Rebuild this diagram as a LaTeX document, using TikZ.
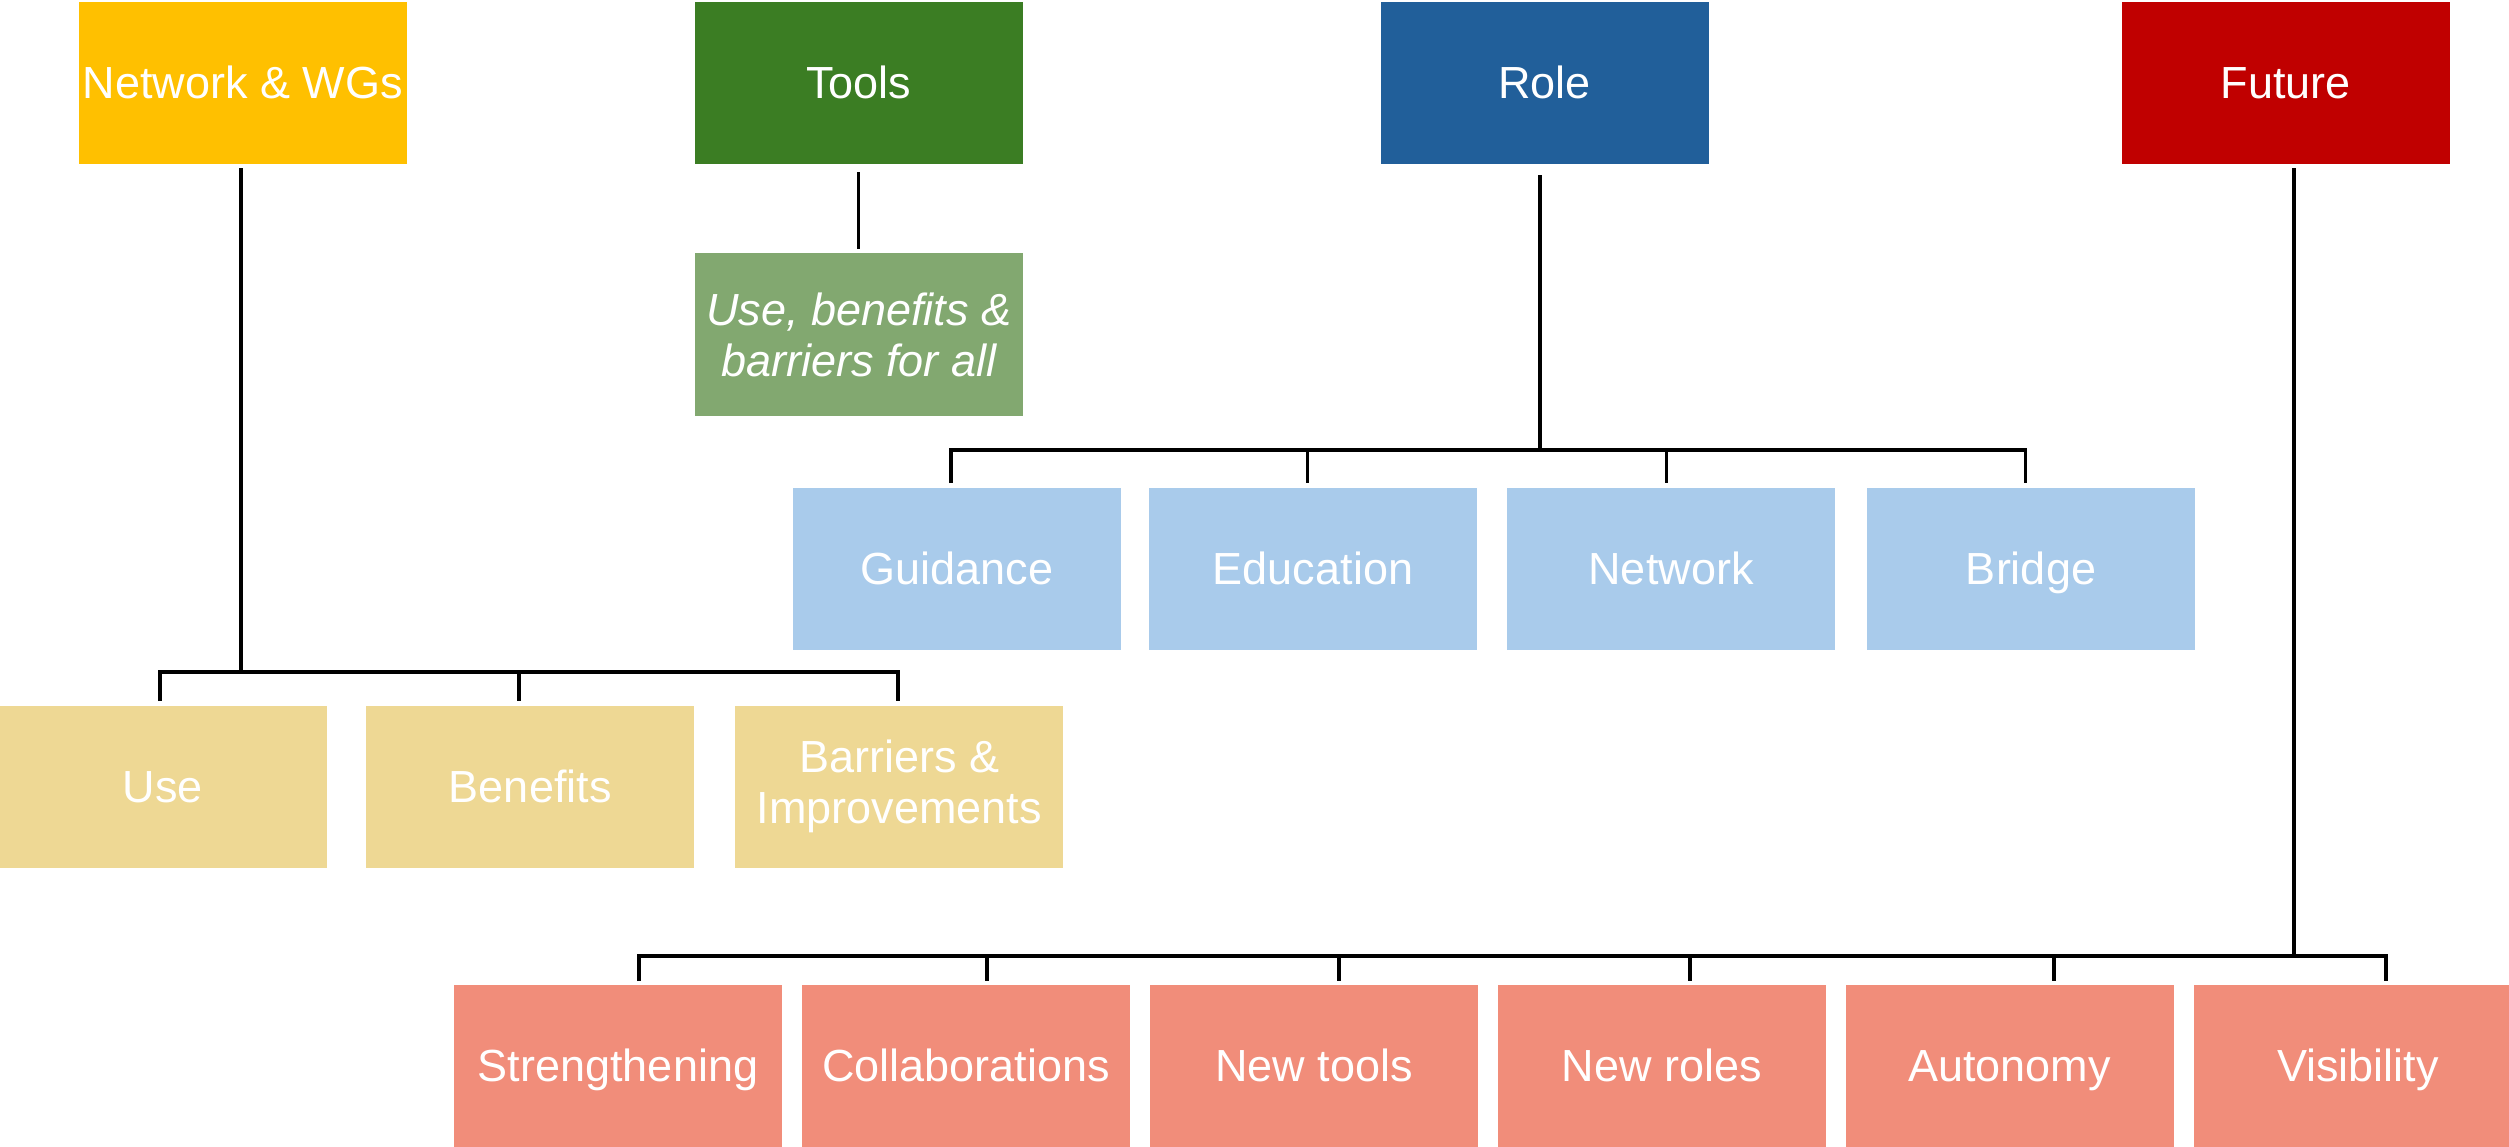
\documentclass[tikz,border=0pt]{standalone}
\usepackage{fontspec}
\setmainfont{Liberation Sans}
\definecolor{nwc}{HTML}{FFC000}
\definecolor{nwl}{HTML}{EED894}
\definecolor{tlc}{HTML}{3B7D23}
\definecolor{tll}{HTML}{82A870}
\definecolor{rlc}{HTML}{215F9A}
\definecolor{rll}{HTML}{A9CBEB}
\definecolor{fuc}{HTML}{C00000}
\definecolor{ful}{HTML}{F18D7A}
\begin{document}
\begin{tikzpicture}[x=0.5pt,y=-0.5pt,
  box/.style={rectangle,inner sep=0pt,outer sep=0pt,minimum width=164pt,minimum height=81pt,
    text=white,align=center,font=\fontsize{22.5}{25.5}\selectfont},
  onebox/.style={box,text height=20.4pt,text depth=4.8pt},
  conn/.style={draw=black,line width=1.8pt,line cap=butt}]
\clip (0,0) rectangle (2509,1146);
\fill[white] (0,0) rectangle (2509,1146);
% top row
\node[onebox,fill=nwc] (nw) at (242.75,83) {Network \& WGs};
\node[onebox,fill=tlc] (tools) at (858.6,83) {Tools};
\node[onebox,fill=rlc] (role) at (1544.7,83) {Role};
\node[onebox,fill=fuc] (future) at (2285.5,83) {Future};
% tools child
\node[box,fill=tll,minimum height=81.5pt,font=\fontsize{22.5}{25.5}\selectfont\itshape] (tsub) at (858.6,334.5) {Use, benefits \&\\barriers for all};
% role children
\node[onebox,fill=rll] (guid) at (956.8,569) {Guidance};
\node[onebox,fill=rll] (educ) at (1313,569) {Education};
\node[onebox,fill=rll] (netw) at (1671,569) {Network};
\node[onebox,fill=rll] (brid) at (2031,569) {Bridge};
% network children
\node[onebox,fill=nwl] (use) at (163,786.5) {Use};
\node[onebox,fill=nwl] (bene) at (530.25,786.5) {Benefits};
\node[box,fill=nwl] (barr) at (899.25,786.5) {Barriers \&\\Improvements};
% future children
\node[onebox,fill=ful] (stre) at (618,1066) {Strengthening};
\node[onebox,fill=ful] (coll) at (966,1066) {Collaborations};
\node[onebox,fill=ful] (ntool) at (1314,1066) {New tools};
\node[onebox,fill=ful] (nrole) at (1662,1066) {New roles};
\node[onebox,fill=ful] (auto) at (2009.5,1066) {Autonomy};
\node[onebox,fill=ful] (visi) at (2358,1066) {Visibility};
% connector coordinates
\coordinate (nwt) at (241,168);
\coordinate (nwj) at (241,672);
\coordinate (nwa) at (160,672);
\coordinate (nwb) at (519,672);
\coordinate (nwc) at (898,672);
\coordinate (nwa2) at (160,701);
\coordinate (nwb2) at (519,701);
\coordinate (nwc2) at (898,701);
\coordinate (tlt) at (858.6,172);
\coordinate (tlb) at (858.6,249);
\coordinate (rlt) at (1540,175);
\coordinate (rlj) at (1540,450);
\coordinate (rla) at (951,450);
\coordinate (rlb) at (1307.5,450);
\coordinate (rlc) at (1666.5,450);
\coordinate (rld) at (2025.5,450);
\coordinate (rla2) at (951,483);
\coordinate (rlb2) at (1307.5,483);
\coordinate (rlc2) at (1666.5,483);
\coordinate (rld2) at (2025.5,483);
\coordinate (fut) at (2294,168);
\coordinate (fuj) at (2294,956);
\coordinate (fua) at (639,956);
\coordinate (fub) at (987,956);
\coordinate (fuc) at (1339,956);
\coordinate (fud) at (1690,956);
\coordinate (fue) at (2054,956);
\coordinate (fuf) at (2386,956);
\coordinate (fua2) at (639,981);
\coordinate (fub2) at (987,981);
\coordinate (fuc2) at (1339,981);
\coordinate (fud2) at (1690,981);
\coordinate (fue2) at (2054,981);
\coordinate (fuf2) at (2386,981);
% connectors
\draw[conn] (nwt) -- (nwj);
\draw[conn] (nwa2) -- (nwa) -- (nwc) -- (nwc2);
\draw[conn] (nwb) -- (nwb2);
\draw[conn] (tlt) -- (tlb);
\draw[conn] (rlt) -- (rlj);
\draw[conn] (rla2) -- (rla) -- (rld) -- (rld2);
\draw[conn] (rlb) -- (rlb2);
\draw[conn] (rlc) -- (rlc2);
\draw[conn] (fut) -- (fuj);
\draw[conn] (fua2) -- (fua) -- (fuf) -- (fuf2);
\draw[conn] (fub) -- (fub2);
\draw[conn] (fuc) -- (fuc2);
\draw[conn] (fud) -- (fud2);
\draw[conn] (fue) -- (fue2);
\end{tikzpicture}
\end{document}
